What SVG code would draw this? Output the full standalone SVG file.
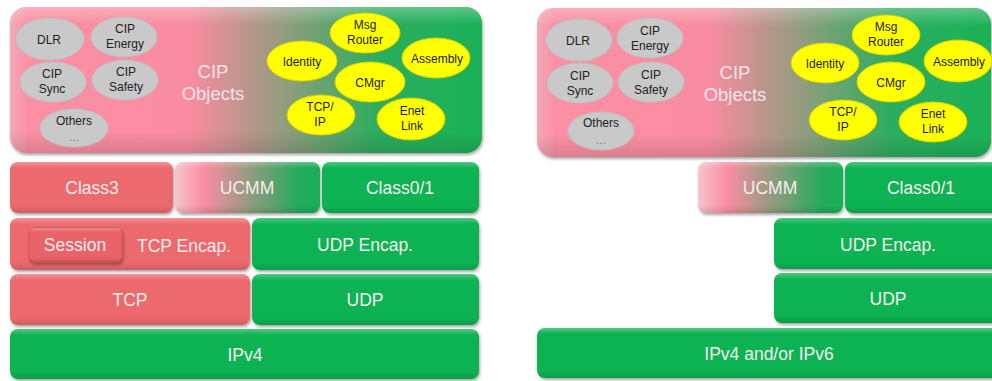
<svg xmlns="http://www.w3.org/2000/svg" width="992" height="381" viewBox="0 0 992 381">
<defs>
  <linearGradient id="topGrad" x1="0" y1="0" x2="1" y2="0">
    <stop offset="0" stop-color="#F2A9B8"/>
    <stop offset="0.04" stop-color="#FB8FA3"/>
    <stop offset="0.38" stop-color="#F98CA0"/>
    <stop offset="0.78" stop-color="#2CAD5E"/>
    <stop offset="1" stop-color="#1BB257"/>
  </linearGradient>
  <linearGradient id="ucmmGrad" x1="0" y1="0" x2="1" y2="0">
    <stop offset="0" stop-color="#F6C4CF"/>
    <stop offset="0.2" stop-color="#FA8DA1"/>
    <stop offset="0.85" stop-color="#24AB5C"/>
    <stop offset="1" stop-color="#19B055"/>
  </linearGradient>
  <linearGradient id="gloss" x1="0" y1="0" x2="0" y2="1">
    <stop offset="0" stop-color="#FFFFFF" stop-opacity="0.28"/>
    <stop offset="0.12" stop-color="#FFFFFF" stop-opacity="0"/>
    <stop offset="0.85" stop-color="#000000" stop-opacity="0"/>
    <stop offset="1" stop-color="#000000" stop-opacity="0.12"/>
  </linearGradient>
  <filter id="shadow" x="-5%" y="-10%" width="110%" height="130%">
    <feDropShadow dx="1" dy="2" stdDeviation="1.5" flood-color="#000" flood-opacity="0.35"/>
  </filter>
</defs>
<style>
  .red { fill: #EC6A6D; }
  .green { fill: #0DB352; }
  .top { fill: url(#topGrad); }
  .ucmm { fill: url(#ucmmGrad); }
  .gl { fill: url(#gloss); }
  .box { filter: url(#shadow); }
  .lbl { font-family: "Liberation Sans", Arial, sans-serif; font-size: 17.5px; fill: #F5EEEE; text-anchor: middle; }
  .cipobj { font-family: "Liberation Sans", Arial, sans-serif; font-size: 18.5px; fill: #F7E3EA; text-anchor: middle; }
  .gray { fill: #C9C9C9; stroke: #C0C0C0; stroke-width: 1; }
  .yel { fill: #FFFF00; stroke: #D9D300; stroke-width: 1; }
  .el { font-family: "Liberation Sans", Arial, sans-serif; font-size: 12px; fill: #222; text-anchor: middle; }
  .dots { font-family: "Liberation Sans", Arial, sans-serif; font-size: 11px; fill: #777; text-anchor: middle; }
  .sess { fill: #E96467; stroke: #CC5256; stroke-width: 1; }
</style>
<rect width="992" height="381" fill="#FFFFFF"/>

<!-- LEFT PANEL -->
<g id="left-cip-objects">
  <rect class="top box" x="10" y="7" width="472" height="146" rx="16"/>
  <rect class="gl" x="10" y="7" width="472" height="146" rx="16"/>
  <text class="cipobj" x="213" y="78">CIP</text>
  <text class="cipobj" x="213" y="100">Objects</text>
</g>
<g id="left-dlr"><ellipse class="gray" cx="50" cy="39" rx="34" ry="21"/><text class="el" x="49" y="44">DLR</text></g>
<g id="left-cip-energy"><ellipse class="gray" cx="124" cy="37" rx="33" ry="20"/><text class="el" x="125" y="33">CIP</text><text class="el" x="125" y="48">Energy</text></g>
<g id="left-cip-sync"><ellipse class="gray" cx="53" cy="82" rx="33" ry="20"/><text class="el" x="52" y="78">CIP</text><text class="el" x="52" y="93">Sync</text></g>
<g id="left-cip-safety"><ellipse class="gray" cx="125" cy="80" rx="33" ry="20"/><text class="el" x="126" y="76">CIP</text><text class="el" x="126" y="91">Safety</text></g>
<g id="left-others"><ellipse class="gray" cx="74" cy="128" rx="34" ry="19"/><text class="el" x="74" y="125">Others</text><text class="dots" x="74" y="141">…</text></g>

<g id="left-msg-router"><ellipse class="yel" cx="365" cy="33" rx="35" ry="20"/><text class="el" x="365" y="29">Msg</text><text class="el" x="365" y="44">Router</text></g>
<g id="left-identity"><ellipse class="yel" cx="302" cy="61" rx="35" ry="20"/><text class="el" x="302" y="66">Identity</text></g>
<g id="left-assembly"><ellipse class="yel" cx="436" cy="58" rx="34" ry="20"/><text class="el" x="437" y="63">Assembly</text></g>
<g id="left-cmgr"><ellipse class="yel" cx="370" cy="82" rx="35" ry="20"/><text class="el" x="370" y="87">CMgr</text></g>
<g id="left-tcpip"><ellipse class="yel" cx="321" cy="115" rx="34" ry="20"/><text class="el" x="320" y="111">TCP/</text><text class="el" x="320" y="126">IP</text></g>
<g id="left-enet-link"><ellipse class="yel" cx="411" cy="119" rx="34" ry="21"/><text class="el" x="412" y="115">Enet</text><text class="el" x="412" y="130">Link</text></g>

<g id="left-class3"><rect class="red box" x="10" y="162" width="163" height="51" rx="8"/><rect class="gl" x="10" y="162" width="163" height="51" rx="8"/><text class="lbl" x="92" y="194">Class3</text></g>
<g id="left-ucmm"><rect class="ucmm box" x="175" y="162" width="145" height="51" rx="8"/><rect class="gl" x="175" y="162" width="145" height="51" rx="8"/><text class="lbl" x="247" y="194">UCMM</text></g>
<g id="left-class01"><rect class="green box" x="322" y="162" width="157" height="51" rx="8"/><rect class="gl" x="322" y="162" width="157" height="51" rx="8"/><text class="lbl" x="400" y="194">Class0/1</text></g>
<g id="left-tcp-encap"><rect class="red box" x="10" y="218" width="240" height="52" rx="8"/><rect class="gl" x="10" y="218" width="240" height="52" rx="8"/><text class="lbl" x="184" y="252">TCP Encap.</text></g>
<g id="left-session"><rect class="sess box" x="29" y="228" width="93" height="34" rx="5"/><rect class="gl" x="29" y="228" width="93" height="34" rx="5"/><text class="lbl" x="75" y="251">Session</text></g>
<g id="left-udp-encap"><rect class="green box" x="252" y="218" width="227" height="52" rx="8"/><rect class="gl" x="252" y="218" width="227" height="52" rx="8"/><text class="lbl" x="365" y="251">UDP Encap.</text></g>
<g id="left-tcp"><rect class="red box" x="10" y="274" width="240" height="51" rx="8"/><rect class="gl" x="10" y="274" width="240" height="51" rx="8"/><text class="lbl" x="130" y="306">TCP</text></g>
<g id="left-udp"><rect class="green box" x="252" y="274" width="227" height="51" rx="8"/><rect class="gl" x="252" y="274" width="227" height="51" rx="8"/><text class="lbl" x="365" y="306">UDP</text></g>
<g id="left-ipv4"><rect class="green box" x="10" y="329" width="469" height="50" rx="8"/><rect class="gl" x="10" y="329" width="469" height="50" rx="8"/><text class="lbl" x="245" y="361">IPv4</text></g>

<!-- RIGHT PANEL -->
<g id="right-cip-objects">
  <rect class="top box" x="537" y="8" width="454" height="149" rx="16"/>
  <rect class="gl" x="537" y="8" width="454" height="149" rx="16"/>
  <text class="cipobj" x="735" y="79">CIP</text>
  <text class="cipobj" x="735" y="101">Objects</text>
</g>
<g id="right-dlr"><ellipse class="gray" cx="579" cy="40" rx="33" ry="21"/><text class="el" x="578" y="45">DLR</text></g>
<g id="right-cip-energy"><ellipse class="gray" cx="650" cy="38" rx="33" ry="20"/><text class="el" x="650" y="35">CIP</text><text class="el" x="650" y="50">Energy</text></g>
<g id="right-cip-sync"><ellipse class="gray" cx="580" cy="83" rx="33" ry="20"/><text class="el" x="580" y="80">CIP</text><text class="el" x="580" y="95">Sync</text></g>
<g id="right-cip-safety"><ellipse class="gray" cx="651" cy="82" rx="33" ry="20"/><text class="el" x="651" y="79">CIP</text><text class="el" x="651" y="94">Safety</text></g>
<g id="right-others"><ellipse class="gray" cx="601" cy="131" rx="33" ry="19"/><text class="el" x="601" y="127">Others</text><text class="dots" x="601" y="144">…</text></g>

<g id="right-msg-router"><ellipse class="yel" cx="886" cy="35" rx="34" ry="20"/><text class="el" x="886" y="31">Msg</text><text class="el" x="886" y="46">Router</text></g>
<g id="right-identity"><ellipse class="yel" cx="825" cy="63" rx="34" ry="20"/><text class="el" x="825" y="68">Identity</text></g>
<g id="right-assembly"><ellipse class="yel" cx="958" cy="61" rx="34" ry="21"/><text class="el" x="959" y="66">Assembly</text></g>
<g id="right-cmgr"><ellipse class="yel" cx="891" cy="82" rx="34" ry="20"/><text class="el" x="891" y="87">CMgr</text></g>
<g id="right-tcpip"><ellipse class="yel" cx="843" cy="120" rx="34" ry="20"/><text class="el" x="843" y="116">TCP/</text><text class="el" x="843" y="131">IP</text></g>
<g id="right-enet-link"><ellipse class="yel" cx="933" cy="122" rx="34" ry="20"/><text class="el" x="933" y="118">Enet</text><text class="el" x="933" y="133">Link</text></g>

<g id="right-ucmm"><rect class="ucmm box" x="698" y="162" width="145" height="51" rx="8"/><rect class="gl" x="698" y="162" width="145" height="51" rx="8"/><text class="lbl" x="770" y="194">UCMM</text></g>
<g id="right-class01"><rect class="green box" x="845" y="162" width="160" height="51" rx="8"/><rect class="gl" x="845" y="162" width="160" height="51" rx="8"/><text class="lbl" x="921" y="194">Class0/1</text></g>
<g id="right-udp-encap"><rect class="green box" x="774" y="218" width="230" height="51" rx="8"/><rect class="gl" x="774" y="218" width="230" height="51" rx="8"/><text class="lbl" x="888" y="251">UDP Encap.</text></g>
<g id="right-udp"><rect class="green box" x="774" y="273" width="230" height="50" rx="8"/><rect class="gl" x="774" y="273" width="230" height="50" rx="8"/><text class="lbl" x="888" y="305">UDP</text></g>
<g id="right-ipv4-ipv6"><rect class="green box" x="537" y="328" width="470" height="50" rx="8"/><rect class="gl" x="537" y="328" width="470" height="50" rx="8"/><text class="lbl" x="769" y="360">IPv4 and/or IPv6</text></g>

<g id="connectors"/>
</svg>
